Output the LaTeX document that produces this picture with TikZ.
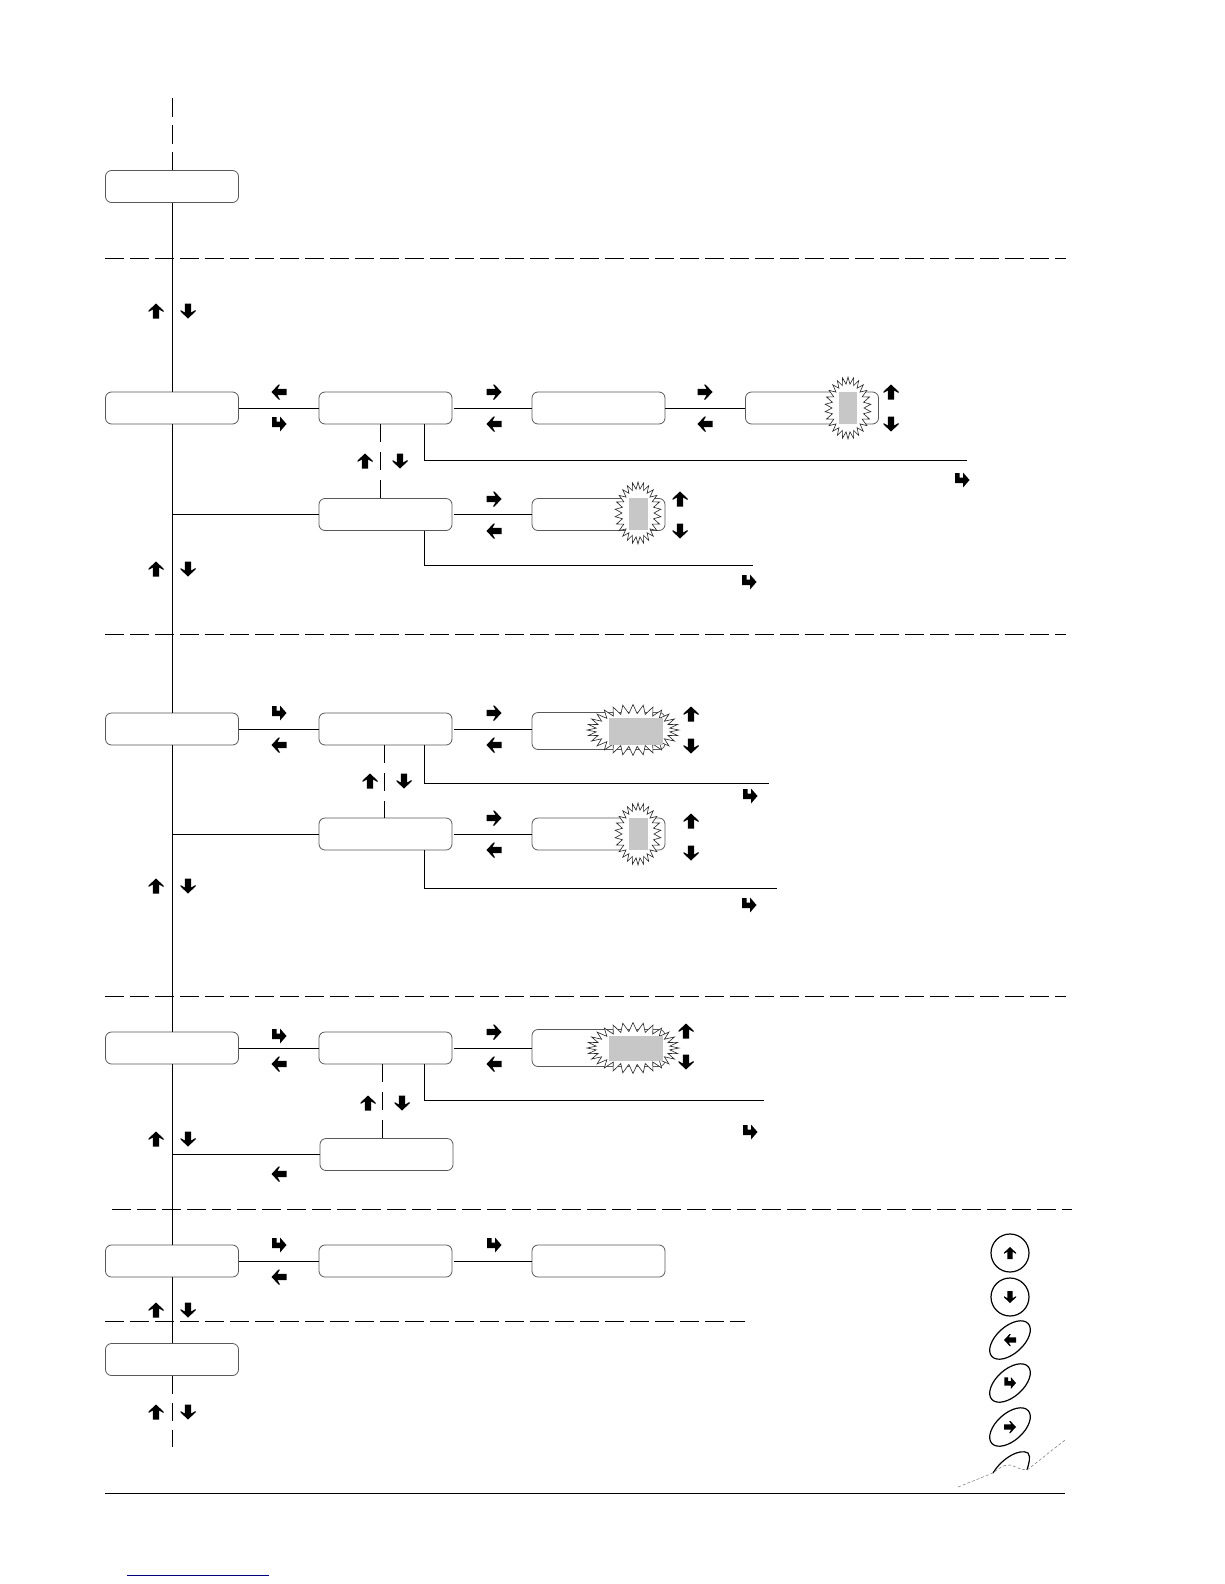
\documentclass[tikz,border=0pt]{standalone}
\usetikzlibrary{shapes.geometric,shapes.symbols}
\begin{document}
\begin{tikzpicture}[x=1pt,y=-1pt,
  line width=.95pt,
  menubox/.style={draw=black!65,line width=.8pt,rounded corners=6pt,fill=white,inner sep=0pt,minimum width=133pt,minimum height=32pt},
  tallbox/.style={menubox,minimum height=37pt},
  narrowburst/.style={draw=black!85,line width=.6pt,fill=white,shape=starburst,inner sep=0pt,starburst points=26,starburst point height=7pt,random starburst=0,minimum width=46pt,minimum height=62pt},
  wideburst/.style={narrowburst,starburst points=28,starburst point height=9pt,minimum width=92pt,minimum height=51pt},
  value/.style={fill=black!22,inner sep=0pt},
  keyring/.style={draw=black,line width=1.2pt,shape=circle,inner sep=0pt,minimum size=38pt},
  keyoval/.style={draw=black,line width=1.2pt,shape=ellipse,inner sep=0pt,rotate=42,minimum width=49pt,minimum height=27pt},
  section/.style={dash pattern=on 19pt off 6pt},
  gapped/.style={dash pattern=on 18pt off 10pt},
  outlink/.style={shorten <=2pt},
  pics/keyarrow/.style={code={\fill[rotate=#1] (0,-7.5) -- (7.5,-.5) -- (7.5,1) -- (3.2,-1.5) -- (3.2,7.5) -- (-3.2,7.5) -- (-3.2,-1.5) -- (-7.5,1) -- (-7.5,-.5) -- cycle;}},
  pics/keyenter/.style={code={\fill (-7,-7) -- (-2.5,-7) -- (-2.5,-2.5) -- (1,-2.5) -- (1,-7.5) -- (7.5,0) -- (1,7.5) -- (1,3.2) -- (-7,3.2) -- cycle;}}]
\useasboundingbox (0,0) rectangle (1224,1584);
% section rules
\coordinate (ruleAl) at (105,258); \coordinate (ruleAr) at (1066,258);
\coordinate (ruleBl) at (105,634); \coordinate (ruleBr) at (1066,634);
\coordinate (ruleCl) at (105,996); \coordinate (ruleCr) at (1066,996);
\coordinate (ruleDl) at (112,1209); \coordinate (ruleDr) at (1072,1209);
\coordinate (ruleEl) at (105,1321); \coordinate (ruleEr) at (745,1321);
\draw[section] (ruleAl) -- (ruleAr);
\draw[section] (ruleBl) -- (ruleBr);
\draw[section] (ruleCl) -- (ruleCr);
\draw[section] (ruleDl) -- (ruleDr);
\draw[section] (ruleEl) -- (ruleEr);
% left column
\node[menubox] (home) at (172,186.5) {};
\node[menubox] (rowA) at (172,408) {};
\node[menubox] (rowB) at (172,729) {};
\node[menubox] (rowC) at (172,1048) {};
\node[menubox] (rowD) at (172,1261) {};
\node[menubox] (rowE) at (172,1359.5) {};
\coordinate (spineTop) at (172,98);
\coordinate (spineEnd) at (172,1447);
\coordinate (teeA) at (172,514.5);
\coordinate (teeB) at (172,834);
\coordinate (teeC) at (172,1154.5);
\draw[dash pattern=on 19pt off 8pt] (spineTop) -- (home.north);
\draw (home.south) -- (rowA.north);
\draw (rowA.south) -- (rowB.north);
\draw (rowB.south) -- (rowC.north);
\draw (rowC.south) -- (rowD.north);
\draw (rowD.south) -- (rowE.north);
\draw[dash pattern=on 18pt off 9pt] (rowE.south) -- (spineEnd);
% first block
\node[menubox] (aOne) at (385.5,408) {};
\node[menubox] (aTwo) at (598.5,408) {};
\node[menubox] (aThree) at (812,408) {};
\node[narrowburst] (aBurst) at (848,408) {};
\node[value,minimum width=18pt,minimum height=32pt] (aValue) at (848,408) {};
\node[menubox] (bOne) at (385.5,514.5) {};
\node[menubox] (bTwo) at (598.5,514.5) {};
\node[narrowburst] (bBurst) at (638,513) {};
\node[value,minimum width=19pt,minimum height=32pt] (bValue) at (638.5,513.5) {};
\coordinate (aExit) at (967,460);
\coordinate (bExit) at (753,565);
\draw (rowA) -- (aOne);
\draw[outlink] (aOne) -- (aTwo);
\draw (aTwo) -- (aThree);
\draw (teeA) -- (bOne.west);
\draw[outlink] (bOne) -- (bTwo);
\draw[gapped] ([xshift=-5.5pt]aOne.south) -- ([xshift=-5.5pt]bOne.north);
\draw ([xshift=38.5pt]aOne.south) |- (aExit);
\draw ([xshift=38.5pt]bOne.south) |- (bExit);
% second block
\node[menubox] (cOne) at (385.5,729) {};
\node[tallbox] (cTwo) at (598.5,731) {};
\node[wideburst] (cBurst) at (633,730) {};
\node[value,minimum width=54pt,minimum height=27pt] (cValue) at (636,731.5) {};
\node[menubox] (dOne) at (385.5,834) {};
\node[menubox] (dTwo) at (598.5,834) {};
\node[narrowburst] (dBurst) at (638,834) {};
\node[value,minimum width=19pt,minimum height=32pt] (dValue) at (638.5,834) {};
\coordinate (cExit) at (769,783);
\coordinate (dExit) at (777,888);
\draw (rowB) -- (cOne);
\draw[outlink] (cOne) -- (cTwo.west |- cOne);
\draw (teeB) -- (dOne.west);
\draw[outlink] (dOne) -- (dTwo);
\draw[gapped] ([xshift=-1.5pt]cOne.south) -- ([xshift=-1.5pt]dOne.north);
\draw ([xshift=38.5pt]cOne.south) |- (cExit);
\draw ([xshift=38.5pt]dOne.south) |- (dExit);
% third block
\node[menubox] (eOne) at (385.5,1048) {};
\node[tallbox] (eTwo) at (598.5,1048) {};
\node[wideburst] (eBurst) at (633,1048) {};
\node[value,minimum width=54pt,minimum height=25pt] (eValue) at (636,1048.5) {};
\node[menubox] (fOne) at (386.5,1154.5) {};
\coordinate (eExit) at (764,1100);
\draw (rowC) -- (eOne);
\draw[outlink] (eOne) -- (eTwo);
\draw (teeC) -- (fOne.west);
\draw[gapped] ([xshift=-3.5pt]eOne.south) -- ([xshift=-4.5pt]fOne.north);
\draw ([xshift=38.5pt]eOne.south) |- (eExit);
% fourth block
\node[menubox] (gOne) at (385.5,1261) {};
\node[menubox] (gTwo) at (598.5,1261) {};
\draw (rowD) -- (gOne);
\draw[outlink] (gOne) -- (gTwo);
% key marks
\foreach \x/\y in {156/311,891/392,365/461,680/499,156/569,691/714,370/781,691/821,156/886,686/1031,368/1103,156/1139,156/1310,156/1412}
  \pic at (\x,\y) {keyarrow=0};
\foreach \x/\y in {188/311,891/424,400/461,680/531,188/569,691/746,404/781,691/853,188/886,686/1062,402/1103,188/1139,188/1310,188/1412}
  \pic at (\x,\y) {keyarrow=180};
\foreach \x/\y in {279/392,494/424,705/424,494/531,279/745,494/745,494/850,279/1064,494/1064,279/1174,279/1277}
  \pic at (\x,\y) {keyarrow=90};
\foreach \x/\y in {494/392,705/392,494/499,494/713,494/818,494/1032}
  \pic at (\x,\y) {keyarrow=-90};
\foreach \x/\y in {279/424,962/480,749/582,279/713,750/796,749/905,279/1036,750/1132,279/1245,494/1245}
  \pic at (\x,\y) {keyenter};
% legend
\node[keyring] (legUp) at (1010,1253) {};
\node[keyring] (legDown) at (1010,1297) {};
\node[keyoval] (legLeft) at (1010,1340) {};
\node[keyoval] (legEnter) at (1010,1383) {};
\node[keyoval] (legRight) at (1010,1427) {};
\pic[scale=.8] at (legUp) {keyarrow=0};
\pic[scale=.8] at (legDown) {keyarrow=180};
\pic[scale=.8] at (legLeft) {keyarrow=90};
\pic[scale=.8] at (legEnter) {keyenter};
\pic[scale=.8] at (legRight) {keyarrow=-90};
\coordinate (tearL) at (958,1487);
\coordinate (tearR) at (1065,1440);
\draw[line width=1.2pt] (993,1473) .. controls (1002,1458) and (1020,1448) .. (1028,1453) .. controls (1031,1457) and (1029,1463) .. (1027,1470);
\draw[black!55,line width=.5pt,densely dashed] (tearL) -- (993,1473) .. controls (1000,1467) and (1006,1464) .. (1010,1465) .. controls (1015,1466) and (1020,1470) .. (1027,1470) -- (tearR);
% foot
\coordinate (footL) at (105,1493.5); \coordinate (footR) at (1065,1493.5);
\draw (footL) -- (footR);
\coordinate (linkL) at (127,1575); \coordinate (linkR) at (269,1575);
\draw[blue!50!black] (linkL) -- (linkR);
\end{tikzpicture}
\end{document}
